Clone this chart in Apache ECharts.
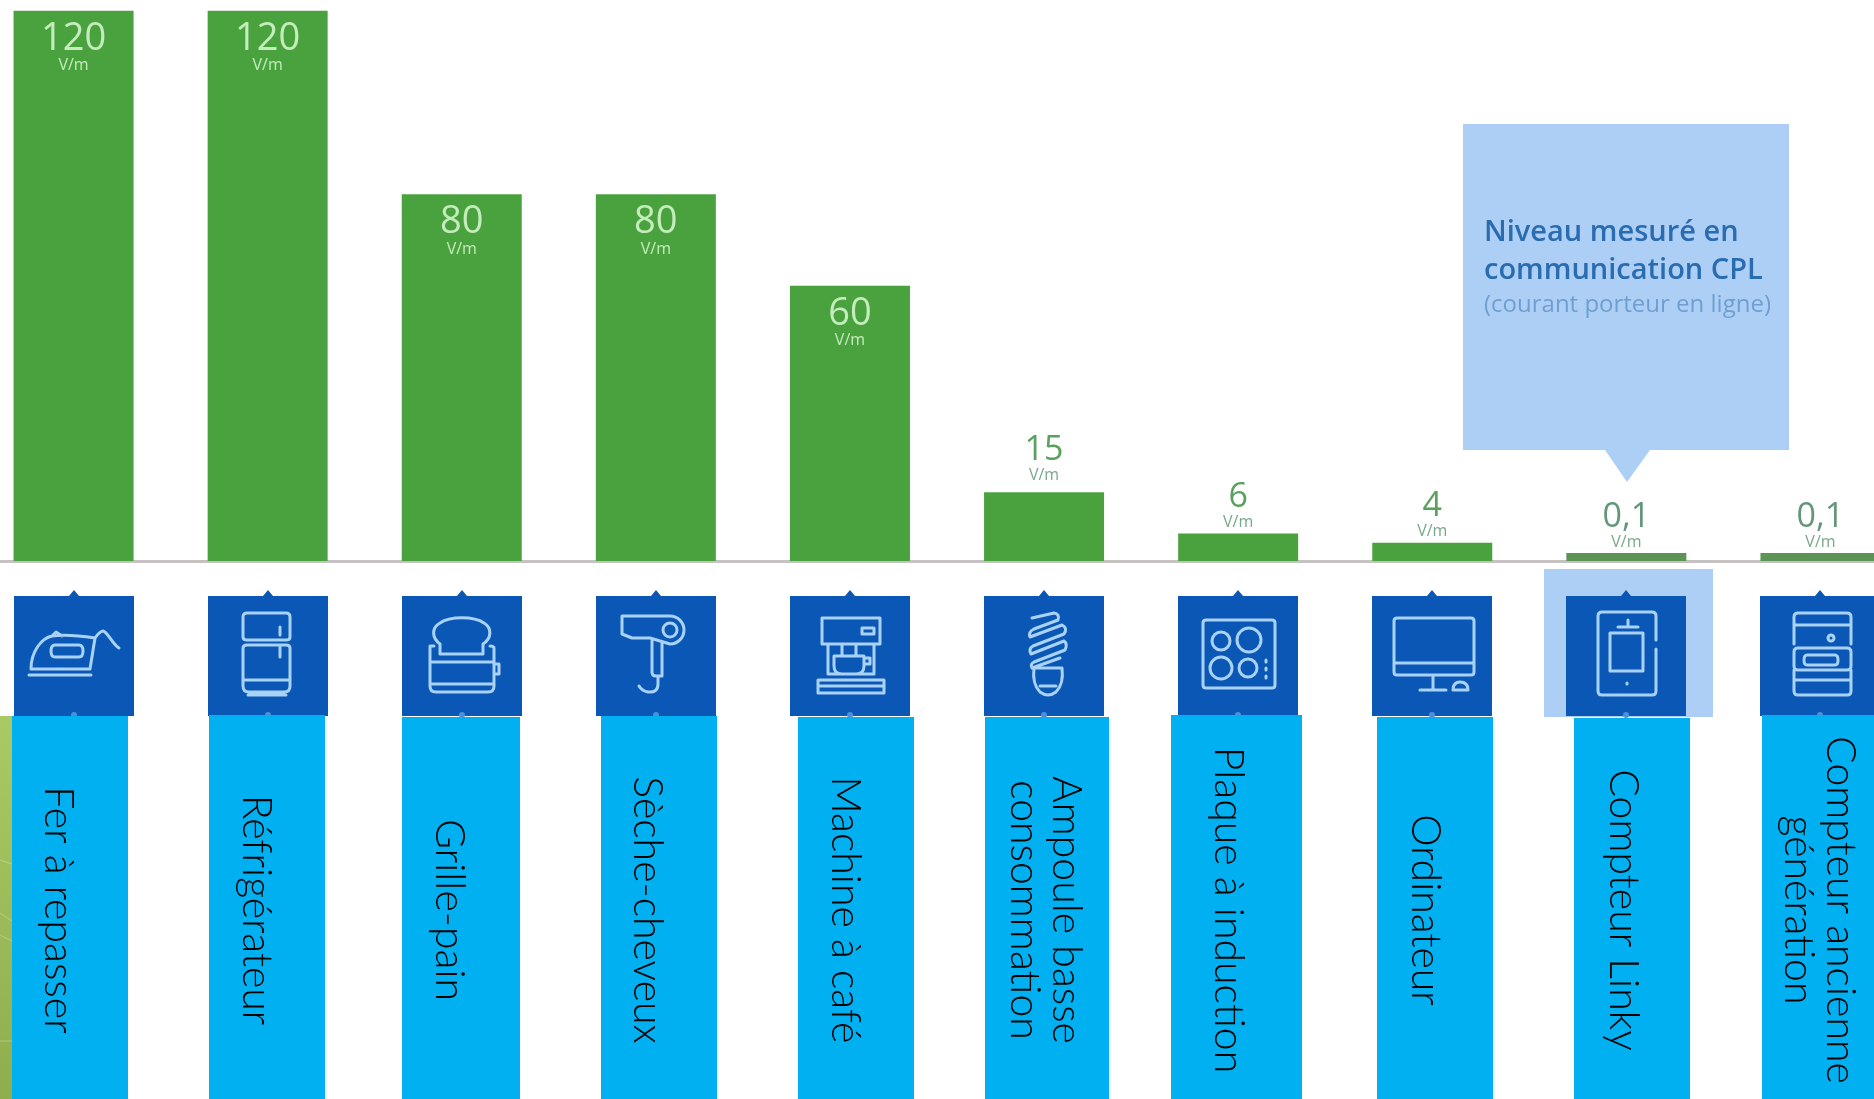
<!DOCTYPE html>
<html lang="fr">
<head>
<meta charset="utf-8">
<title>Champ électrique des appareils domestiques</title>
<style>
  html, body { margin: 0; padding: 0; background: #fff; }
  #chart { width: 1874px; height: 1099px; }
</style>
<script src="https://cdn.jsdelivr.net/npm/echarts@6/dist/echarts.min.js"></script>
</head>
<body>
<div id="chart"></div>
<script>
// Appliance names, one per column (\n marks a line break in the caption)
const categories = [
  'Fer à repasser', 'Réfrigérateur', 'Grille-pain', 'Sèche-cheveux', 'Machine à café',
  'Ampoule basse\nconsommation', 'Plaque à induction', 'Ordinateur', 'Compteur Linky',
  'Compteur ancienne\ngénération'
];
// Electric field level in V/m
const fieldLevels = [120, 120, 80, 80, 60, 15, 6, 4, 0.1, 0.1];
const unitLabel = 'V/m';

// Caption boxes: left edge, right edge, top edge, text centre
const captionLeft  = [12, 209, 402, 601, 798, 985, 1171, 1377, 1574, 1762];
const captionRight = [128, 325, 520, 717, 914, 1109, 1302, 1493, 1690, 1874];
const captionTop   = [716, 715, 717, 716, 717, 717, 715, 717, 718, 715];
const captionTextX = [58, 256, 449, 647, 845, 1045, 1228, 1425, 1623, 1819];

// Line icons, drawn in a 120 x 120 tile
const iconPaths = [
  // iron
  'M15 79H77M17 73C17 55 28 42 38 40C52 38 68 40 81 42L76 73ZM38 40L42 36L48 40M41 49H65Q69 49 69 55Q69 61 65 61H41Q37 61 37 55Q37 49 41 49ZM81 42C84 38 86 35 89 35C94 36 98 48 105 52',
  // fridge
  'M39 17H78Q82 17 82 21V41Q82 44 78 44H39Q35 44 35 41V21Q35 17 39 17ZM39 49H78Q82 49 82 52V90Q82 96 76 96H41Q35 96 35 90V52Q35 49 39 49ZM35 84H82M72 31V39M72 51V61M40 99H78',
  // toaster
  'M38 48C30 42 29 32 38 27C48 20 72 20 82 27C90 32 90 42 81 48V58H38ZM32 50H28V90Q28 96 34 96H86Q92 96 92 90V52Q92 50 88 50M28 66H92M28 88H92M92 68H97V78H92',
  // hair dryer
  'M26 20H74A14 14 0 1 1 74 48L54 42H36L26 38ZM74 27A7 7 0 1 1 74 41A7 7 0 1 1 74 27M56 45V76Q56 80 60 80H66V46M62 80V88Q62 97 52 96Q46 95 43 90',
  // coffee machine
  'M32 22H90V48H32ZM38 48V78H84V48M28 84H94V97H28ZM28 90H94M44 60H74V70Q74 78 66 78H52Q44 78 44 70ZM74 62H80V68H74M72 32H84V38H72ZM52 48V60M66 48V60',
  // spiral bulb
  'M48 22L70 17Q76 18 74 24L50 33Q44 36 46 41L78 29Q84 32 80 38L49 50Q44 53 47 58L80 45Q84 48 81 54L50 66Q46 68 48 72L76 62M50 72H78Q80 88 72 96Q64 102 56 96Q48 88 50 72ZM56 90H72',
  // induction hob
  'M28 24H94Q97 24 97 27V89Q97 92 94 92H28Q25 92 25 89V27Q25 24 28 24ZM34 45A9 9 0 1 1 52 45A9 9 0 1 1 34 45ZM59 44A12 12 0 1 1 83 44A12 12 0 1 1 59 44ZM32 72A11 11 0 1 1 54 72A11 11 0 1 1 32 72ZM61 72A9 9 0 1 1 79 72A9 9 0 1 1 61 72ZM88 64V66M88 72V74M88 80V82',
  // desktop computer
  'M25 22H99Q102 22 102 25V76Q102 79 99 79H25Q22 79 22 76V25Q22 22 25 22ZM22 67H102M61 79V93M48 94H74M81 94H96Q96 86 88 86Q81 86 81 94Z',
  // Linky meter
  'M90 44V20Q90 16 86 16H36Q32 16 32 20V95Q32 99 36 99H86Q90 99 90 95V53M44 37H77V75H44ZM52 31H72M62 24V30M61 87V88',
  // older meter
  'M34 48V21Q34 17 38 17H87Q91 17 91 21V48M34 29H91M34 56Q34 52 38 52H87Q91 52 91 56V70Q91 74 87 74H38Q34 74 34 70ZM47 59H75Q78 59 78 64Q78 69 75 69H47Q44 69 44 64Q44 59 47 59ZM34 74V95Q34 99 38 99H87Q91 99 91 95V74M34 84H91M68 42A3 3 0 1 1 74 42A3 3 0 1 1 68 42'
];

const TILE = 120;
const GRID_LEFT = -23.5;
const GRID_WIDTH = 1941;
const FONT = '"Open Sans", "Noto Sans", sans-serif';

const chart = echarts.init(document.getElementById('chart'), null, { renderer: 'canvas' });

// Big bars carry their label inside, short ones above the bar
function barItem(value) {
  const inside = value >= 60;
  const numColor = inside ? '#c4ecbc' : (value >= 4 ? '#5aa060' : '#63967a');
  const unitColor = inside ? '#c4ecbc' : '#7aa88a';
  return {
    value,
    itemStyle: { color: value < 1 ? '#5b9455' : '#4aa23e' },
    label: {
      show: true,
      position: inside ? 'insideTop' : 'top',
      distance: inside ? 10 : (value >= 10 ? 8 : 2),
      formatter: () => '{num|' + String(value).replace('.', ',') + '}\n{unit|' + unitLabel + '}',
      rich: {
        num: { fontFamily: FONT, fontWeight: 500, fontSize: inside ? 38 : 34, lineHeight: inside ? 36 : 32, color: numColor, align: 'center' },
        unit: { fontFamily: FONT, fontSize: 16, lineHeight: 18, color: unitColor, align: 'center' }
      }
    }
  };
}

// Blue tile with its appliance icon, placed on the same category scale as the bars
function renderTile(params, api) {
  const i = api.value(0);
  const top = api.coord([i, 1]);
  const x = Math.round(top[0] - TILE / 2);
  const y = top[1];
  return {
    type: 'group',
    x, y,
    children: [
      { type: 'rect', shape: { x: 0, y: 0, width: TILE, height: TILE }, style: { fill: '#0a57b6' } },
      { type: 'polygon', shape: { points: [[TILE / 2 - 5, 0], [TILE / 2, -6], [TILE / 2 + 5, 0]] }, style: { fill: '#0a57b6' } },
      { type: 'circle', shape: { cx: TILE / 2, cy: TILE - 1, r: 3 }, style: { fill: '#4f8fd8' } },
      { type: 'path', shape: { pathData: iconPaths[i] },
        style: { fill: 'none', stroke: '#a9d2f7', lineWidth: 3, lineJoin: 'round', lineCap: 'round' } }
    ]
  };
}

// Caption boxes with their vertical text, plus the strip on the far left
const captionGraphics = [];
captionGraphics.push({
  type: 'rect', z: 50,
  shape: { x: 0, y: 716, width: 12, height: 383 },
  style: { fill: { type: 'linear', x: 0, y: 0, x2: 0, y2: 1,
    colorStops: [{ offset: 0, color: '#aac964' }, { offset: 1, color: '#90ad4c' }] } }
});
[[860, 864], [913, 921], [935, 941], [1041, 1041]].forEach(([a, b]) => captionGraphics.push({
  type: 'line', z: 51,
  shape: { x1: 0, y1: a, x2: 12, y2: b },
  style: { stroke: 'rgba(255,255,255,0.28)', lineWidth: 1 }
}));
categories.forEach((name, i) => {
  captionGraphics.push({
    type: 'rect', z: 50,
    shape: { x: captionLeft[i], y: captionTop[i], width: captionRight[i] - captionLeft[i], height: 1099 - captionTop[i] },
    style: { fill: '#00b0f0' }
  });
  captionGraphics.push({
    type: 'text', z: 52,
    x: captionTextX[i], y: 910, rotation: -Math.PI / 2,
    style: {
      text: name, fill: '#000',
      font: '300 41px Lato, "Open Sans", sans-serif',
      lineHeight: 42, align: 'center', verticalAlign: 'middle'
    }
  });
});

// Highlight behind the Linky tile and its callout
const calloutGraphics = [
  { type: 'rect', z: 0, shape: { x: 1544, y: 569, width: 169, height: 148 }, style: { fill: '#aecff5' } },
  { type: 'polygon', z: 0,
    shape: { points: [[1463, 124], [1789, 124], [1789, 450], [1650, 450], [1627, 482], [1605, 450], [1463, 450]] },
    style: { fill: '#aecff5' } },
  { type: 'text', z: 5, x: 1484, y: 233,
    style: { text: 'Niveau mesuré en', fill: '#2a6cb0', font: '600 29px "Open Sans", sans-serif', verticalAlign: 'middle' } },
  { type: 'text', z: 5, x: 1484, y: 271,
    style: { text: 'communication CPL', fill: '#2a6cb0', font: '600 29px "Open Sans", sans-serif', verticalAlign: 'middle' } },
  { type: 'text', z: 5, x: 1484, y: 305,
    style: { text: '(courant porteur en ligne)', fill: '#6f9fd2', font: '400 24px "Open Sans", sans-serif', verticalAlign: 'middle' } }
];

chart.setOption({
  animation: false,
  backgroundColor: '#ffffff',
  grid: [
    { left: GRID_LEFT, width: GRID_WIDTH, top: 10.7, height: 550.3, outerBoundsMode: 'none' },
    { left: GRID_LEFT, width: GRID_WIDTH, top: 596, height: TILE, outerBoundsMode: 'none' }
  ],
  xAxis: [
    { type: 'category', gridIndex: 0, data: categories,
      axisTick: { show: false }, axisLabel: { show: false },
      axisLine: { show: true, lineStyle: { color: '#c6c2c2', width: 3 } } },
    { type: 'category', gridIndex: 1, data: categories, show: false }
  ],
  yAxis: [
    { type: 'value', gridIndex: 0, min: 0, max: 120, show: false },
    { type: 'value', gridIndex: 1, min: 0, max: 1, show: false }
  ],
  series: [
    { type: 'bar', xAxisIndex: 0, yAxisIndex: 0, barWidth: 120, barMinHeight: 8,
      data: fieldLevels.map(barItem) },
    { type: 'custom', xAxisIndex: 1, yAxisIndex: 1, renderItem: renderTile, silent: true,
      encode: { x: 0 }, data: categories.map((_, i) => [i]) }
  ],
  graphic: { elements: captionGraphics.concat(calloutGraphics) }
});
</script>
</body>
</html>
